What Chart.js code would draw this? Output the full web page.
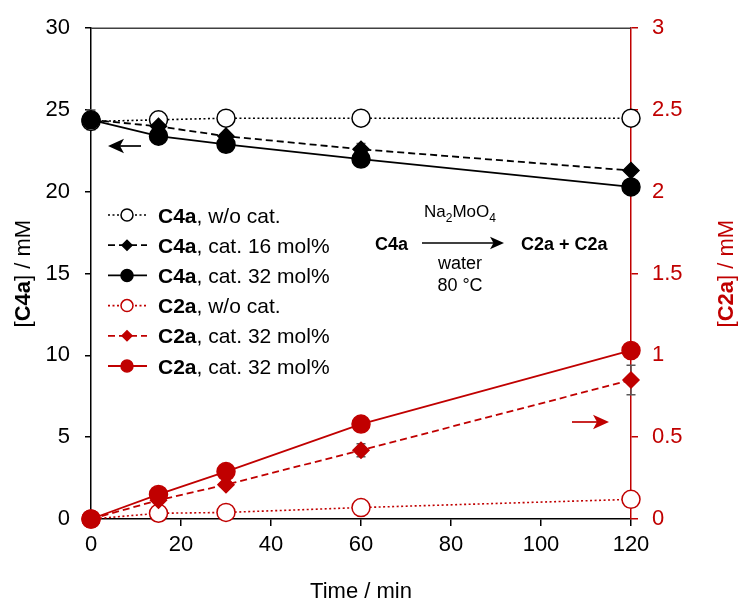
<!DOCTYPE html>
<html>
<head>
<meta charset="utf-8">
<script src="https://cdn.jsdelivr.net/npm/chart.js@4"></script>
<style>
  html, body { margin: 0; padding: 0; background: #fff; }
  canvas { display: block; }
</style>
</head>
<body>
<canvas id="myChart" width="739" height="604"></canvas>
<script>
const FONT = '"Liberation Sans", Arial, sans-serif';
const RED = '#c00000';

// sampling times (min)
const times = [0, 15, 30, 60, 120];

// [C4a] / mM, left axis
const c4aNoCat = [24.3, 24.4, 24.5, 24.5, 24.5];
const c4aCat16 = [24.4, 24.0, 23.4, 22.6, 21.3];
const c4aCat32 = [24.4, 23.4, 22.9, 22.0, 20.3];

// [C2a] / mM, right axis
const c2aNoCat = [0, 0.035, 0.04, 0.07, 0.12];
const c2aCat16 = [0, 0.115, 0.21, 0.42, 0.85];
const c2aCat32 = [0, 0.15, 0.29, 0.58, 1.03];

// standard deviations
const c4aCat16Err = [0, 0, 0.2, 0.35, 0];
const c4aCat32Err = [0.6, 0, 0, 0, 0];
const c2aCat16Err = [0, 0, 0.02, 0.04, 0.09];

const legendLabels = [
    ['C4a', ', w/o cat.'],
    ['C4a', ', cat. 16 mol%'],
    ['C4a', ', cat. 32 mol%'],
    ['C2a', ', w/o cat.'],
    ['C2a', ', cat. 32 mol%'],
    ['C2a', ', cat. 32 mol%'],
];

const xTicks = [0, 20, 40, 60, 80, 100, 120];

const pts = vals => vals.map((v, i) => ({ x: times[i], y: v }));

function series(label, vals, axis, color, dash, shape, filled, order, errors) {
    return {
        label,
        data: pts(vals),
        yAxisID: axis,
        order,
        clip: false,
        borderColor: color,
        borderWidth: dash.length && dash[0] < 3 ? 1.6 : 1.8,
        borderDash: dash,
        pointStyle: shape,
        pointRadius: shape === 'circle' ? 9 : 8,
        pointBackgroundColor: filled ? color : '#fff',
        pointBorderColor: color,
        pointBorderWidth: 1.5,
        legendRadius: shape === 'circle' ? 6 : 5,
        errors: errors || null,
        tension: 0
    };
}

const datasets = [
    series('C4a, w/o cat.', c4aNoCat, 'y', '#000', [2, 2.5], 'circle', false, 2),
    series('C4a, cat. 16 mol%', c4aCat16, 'y', '#000', [7, 4], 'rectRot', true, 1, c4aCat16Err),
    series('C4a, cat. 32 mol%', c4aCat32, 'y', '#000', [], 'circle', true, 0, c4aCat32Err),
    series('C2a, w/o cat.', c2aNoCat, 'y2', RED, [2, 2.5], 'circle', false, 2),
    series('C2a, cat. 32 mol%', c2aCat16, 'y2', RED, [7, 4], 'rectRot', true, 1, c2aCat16Err),
    series('C2a, cat. 32 mol%', c2aCat32, 'y2', RED, [], 'circle', true, 0),
];

// mixed bold / regular text on one baseline
function richText(ctx, parts, x, y, size, color, align) {
    let total = 0;
    const widths = parts.map(p => {
        ctx.font = (p.bold ? 'bold ' : '') + (p.size || size) + 'px ' + FONT;
        const w = ctx.measureText(p.text).width;
        total += w;
        return w;
    });
    let cx = align === 'center' ? x - total / 2 : x;
    ctx.fillStyle = color;
    ctx.textAlign = 'left';
    ctx.textBaseline = 'alphabetic';
    parts.forEach((p, i) => {
        ctx.font = (p.bold ? 'bold ' : '') + (p.size || size) + 'px ' + FONT;
        ctx.fillText(p.text, cx, y + (p.dy || 0));
        cx += widths[i];
    });
}

function arrow(ctx, x1, y, x2, color, head) {
    const dir = Math.sign(x2 - x1);
    ctx.save();
    ctx.strokeStyle = color;
    ctx.fillStyle = color;
    ctx.lineWidth = 1.7;
    ctx.setLineDash([]);
    ctx.beginPath();
    ctx.moveTo(x1, y);
    ctx.lineTo(x2 - dir * head * 0.6, y);
    ctx.stroke();
    ctx.beginPath();
    ctx.moveTo(x2, y);
    ctx.lineTo(x2 - dir * head, y - head * 0.45);
    ctx.lineTo(x2 - dir * head * 0.75, y);
    ctx.lineTo(x2 - dir * head, y + head * 0.45);
    ctx.closePath();
    ctx.fill();
    ctx.restore();
}

const errorBars = {
    id: 'errorBars',
    beforeDatasetsDraw(chart) {
        const ctx = chart.ctx;
        ctx.save();
        ctx.strokeStyle = '#595959';
        ctx.lineWidth = 1.5;
        chart.data.datasets.forEach((ds, di) => {
            if (!ds.errors) return;
            const scale = chart.scales[ds.yAxisID];
            const meta = chart.getDatasetMeta(di);
            ds.errors.forEach((e, i) => {
                if (!e) return;
                const x = meta.data[i].x;
                const v = ds.data[i].y;
                const top = scale.getPixelForValue(v + e);
                const bot = scale.getPixelForValue(v - e);
                ctx.beginPath();
                ctx.moveTo(x, top); ctx.lineTo(x, bot);
                ctx.moveTo(x - 4.5, top); ctx.lineTo(x + 4.5, top);
                ctx.moveTo(x - 4.5, bot); ctx.lineTo(x + 4.5, bot);
                ctx.stroke();
            });
        });
        ctx.restore();
    }
};

const decorations = {
    id: 'decorations',
    afterDraw(chart) {
        const ctx = chart.ctx;
        const area = chart.chartArea;
        ctx.save();

        // top frame line
        ctx.strokeStyle = '#404040';
        ctx.lineWidth = 1.5;
        ctx.beginPath();
        ctx.moveTo(area.left, area.top);
        ctx.lineTo(area.right, area.top);
        ctx.stroke();

        // axis titles
        const midY = (area.top + area.bottom) / 2;
        ctx.save();
        ctx.translate(30, midY);
        ctx.rotate(-Math.PI / 2);
        richText(ctx, [{ text: '[' }, { text: 'C4a', bold: true }, { text: '] / mM' }], 0, 0, 22, '#000', 'center');
        ctx.restore();
        ctx.save();
        ctx.translate(733, midY);
        ctx.rotate(-Math.PI / 2);
        richText(ctx, [{ text: '[' }, { text: 'C2a', bold: true }, { text: '] / mM' }], 0, 0, 22, RED, 'center');
        ctx.restore();
        richText(ctx, [{ text: 'Time / min' }], (area.left + area.right) / 2, 598, 22, '#000', 'center');

        // legend
        chart.data.datasets.forEach((ds, i) => {
            const y = 215 + i * 30.2;
            ctx.save();
            ctx.strokeStyle = ds.borderColor;
            ctx.lineWidth = ds.borderWidth;
            ctx.setLineDash(ds.borderDash);
            ctx.beginPath();
            ctx.moveTo(108, y);
            ctx.lineTo(147, y);
            ctx.stroke();
            ctx.setLineDash([]);
            ctx.fillStyle = ds.pointBackgroundColor;
            ctx.strokeStyle = ds.pointBorderColor;
            ctx.lineWidth = 1.5;
            Chart.helpers.drawPoint(ctx, {
                pointStyle: ds.pointStyle,
                radius: ds.legendRadius,
                rotation: 0,
                borderWidth: 1.5
            }, 127, y);
            ctx.restore();
            const lbl = legendLabels[i];
            richText(ctx, [{ text: lbl[0], bold: true }, { text: lbl[1] }], 158, y + 7.5, 21, '#000', 'left');
        });

        // reaction scheme
        richText(ctx, [{ text: 'C4a', bold: true }], 375, 250, 18, '#000', 'left');
        arrow(ctx, 422, 243, 504, '#000', 14);
        richText(ctx, [
            { text: 'Na' }, { text: '2', size: 12, dy: 5 },
            { text: 'MoO' }, { text: '4', size: 12, dy: 5 }
        ], 460, 217, 17, '#000', 'center');
        richText(ctx, [{ text: 'water' }], 460, 269, 18, '#000', 'center');
        richText(ctx, [{ text: '80 °C' }], 460, 291, 18, '#000', 'center');
        richText(ctx, [{ text: 'C2a + C2a', bold: true }], 521, 250, 18, '#000', 'left');

        // axis pointers
        arrow(ctx, 141, 146, 108, '#000', 16);
        arrow(ctx, 572, 422, 609, RED, 16);

        ctx.restore();
    }
};

const tickFont = { family: FONT, size: 22 };

const options = {
    type: 'line',
    data: { datasets },
    options: {
        responsive: false,
        devicePixelRatio: 1,
        animation: false,
        layout: { padding: { top: 25, left: 0, right: 0, bottom: 0 } },
        plugins: {
            legend: { display: false },
            tooltip: { enabled: false }
        },
        scales: {
            x: {
                type: 'linear',
                min: 0,
                max: 120,
                afterBuildTicks: s => { s.ticks = xTicks.map(v => ({ value: v })); },
                afterFit: s => { s.height = 85; },
                ticks: { font: tickFont, color: '#000', padding: 6, maxRotation: 0 },
                grid: { drawOnChartArea: false, tickLength: 7, color: '#000', lineWidth: 1.5 },
                border: { color: '#000', width: 1.5 }
            },
            y: {
                position: 'left',
                min: 0,
                max: 30,
                afterFit: s => { s.width = 91; },
                ticks: { stepSize: 5, font: tickFont, color: '#000', padding: 15 },
                grid: { drawOnChartArea: false, tickLength: 6, color: '#000', lineWidth: 1.5 },
                border: { color: '#000', width: 1.5 }
            },
            y2: {
                position: 'right',
                min: 0,
                max: 3,
                afterFit: s => { s.width = 108; },
                ticks: {
                    stepSize: 0.5, font: tickFont, color: RED, padding: 14,
                    callback: v => String(Math.round(v * 10) / 10)
                },
                grid: { drawOnChartArea: false, tickLength: 7, color: RED, lineWidth: 1.5 },
                border: { color: RED, width: 1.5 }
            }
        }
    },
    plugins: [errorBars, decorations]
};

new Chart(document.getElementById('myChart'), options);
</script>
</body>
</html>
